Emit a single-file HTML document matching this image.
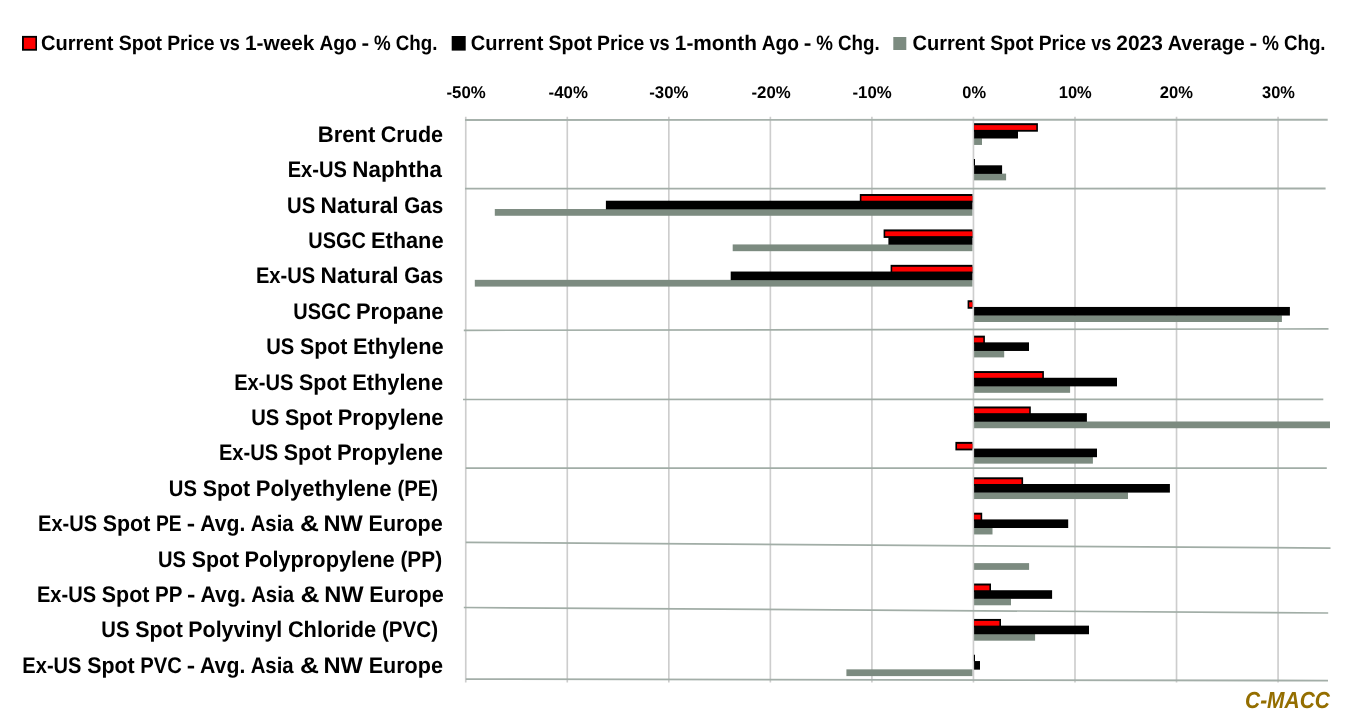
<!DOCTYPE html>
<html lang="en">
<head>
<meta charset="utf-8">
<title>Spot Price Changes</title>
<style>
html,body{margin:0;padding:0;background:#fff;}
body{width:1357px;height:727px;overflow:hidden;}
svg{display:block;}
text{font-family:"Liberation Sans", sans-serif;font-weight:bold;text-rendering:geometricPrecision;}
</style>
</head>
<body>
<svg width="1357" height="727" viewBox="0 0 1357 727">
<rect x="0" y="0" width="1357" height="727" fill="#ffffff"/>
<g stroke="#cdcdcd" stroke-width="1.65" fill="none">
<line x1="465.75" y1="116.8" x2="465.75" y2="682.5"/>
<line x1="567.29" y1="116.8" x2="567.29" y2="682.5"/>
<line x1="668.83" y1="116.8" x2="668.83" y2="682.5"/>
<line x1="770.37" y1="116.8" x2="770.37" y2="682.5"/>
<line x1="871.91" y1="116.8" x2="871.91" y2="682.5"/>
<line x1="973.45" y1="116.8" x2="973.45" y2="682.5"/>
<line x1="1074.99" y1="116.8" x2="1074.99" y2="682.5"/>
<line x1="1176.53" y1="116.8" x2="1176.53" y2="682.5"/>
<line x1="1278.07" y1="116.8" x2="1278.07" y2="682.5"/>
</g>
<g>
<rect x="974.10" y="138.20" width="7.90" height="6.75" fill="#7c8b80"/>
<rect x="974.10" y="129.90" width="43.90" height="8.60" fill="#000"/>
<rect x="974.10" y="123.20" width="63.80" height="8.50" fill="#000"/>
<rect x="974.10" y="125.15" width="62.20" height="4.75" fill="#ff0000"/>
<rect x="974.10" y="173.61" width="32.00" height="6.75" fill="#7c8b80"/>
<rect x="974.10" y="165.31" width="28.00" height="8.60" fill="#000"/>
<rect x="973.90" y="159.01" width="1.10" height="6.60" fill="#000"/>
<rect x="494.80" y="209.02" width="477.60" height="6.75" fill="#7c8b80"/>
<rect x="605.90" y="200.72" width="366.50" height="8.60" fill="#000"/>
<rect x="859.80" y="194.02" width="112.60" height="8.50" fill="#000"/>
<rect x="861.40" y="195.97" width="111.00" height="4.75" fill="#ff0000"/>
<rect x="732.70" y="244.43" width="239.70" height="6.75" fill="#7c8b80"/>
<rect x="888.40" y="236.13" width="84.00" height="8.60" fill="#000"/>
<rect x="883.60" y="229.43" width="88.80" height="8.50" fill="#000"/>
<rect x="885.20" y="231.38" width="87.20" height="4.75" fill="#ff0000"/>
<rect x="474.80" y="279.84" width="497.60" height="6.75" fill="#7c8b80"/>
<rect x="730.70" y="271.54" width="241.70" height="8.60" fill="#000"/>
<rect x="890.60" y="264.84" width="81.80" height="8.50" fill="#000"/>
<rect x="892.20" y="266.79" width="80.20" height="4.75" fill="#ff0000"/>
<rect x="974.10" y="315.25" width="307.80" height="6.75" fill="#7c8b80"/>
<rect x="974.10" y="306.95" width="315.80" height="8.60" fill="#000"/>
<rect x="967.60" y="300.25" width="4.80" height="8.50" fill="#000"/>
<rect x="969.20" y="302.20" width="3.20" height="4.75" fill="#ff0000"/>
<rect x="974.10" y="350.66" width="30.10" height="6.75" fill="#7c8b80"/>
<rect x="974.10" y="342.36" width="54.90" height="8.60" fill="#000"/>
<rect x="974.10" y="335.66" width="10.80" height="8.50" fill="#000"/>
<rect x="974.10" y="337.61" width="9.20" height="4.75" fill="#ff0000"/>
<rect x="974.10" y="386.07" width="96.00" height="6.75" fill="#7c8b80"/>
<rect x="974.10" y="377.77" width="142.90" height="8.60" fill="#000"/>
<rect x="974.10" y="371.07" width="69.80" height="8.50" fill="#000"/>
<rect x="974.10" y="373.02" width="68.20" height="4.75" fill="#ff0000"/>
<rect x="974.10" y="421.48" width="355.90" height="6.75" fill="#7c8b80"/>
<rect x="974.10" y="413.18" width="112.80" height="8.60" fill="#000"/>
<rect x="974.10" y="406.48" width="56.70" height="8.50" fill="#000"/>
<rect x="974.10" y="408.43" width="55.10" height="4.75" fill="#ff0000"/>
<rect x="974.10" y="456.89" width="118.80" height="6.75" fill="#7c8b80"/>
<rect x="974.10" y="448.59" width="122.90" height="8.60" fill="#000"/>
<rect x="955.40" y="441.89" width="17.00" height="8.50" fill="#000"/>
<rect x="957.00" y="443.84" width="15.40" height="4.75" fill="#ff0000"/>
<rect x="974.10" y="492.30" width="153.90" height="6.75" fill="#7c8b80"/>
<rect x="974.10" y="484.00" width="195.80" height="8.60" fill="#000"/>
<rect x="974.10" y="477.30" width="49.00" height="8.50" fill="#000"/>
<rect x="974.10" y="479.25" width="47.40" height="4.75" fill="#ff0000"/>
<rect x="974.10" y="527.71" width="18.40" height="6.75" fill="#7c8b80"/>
<rect x="974.10" y="519.41" width="94.10" height="8.60" fill="#000"/>
<rect x="974.10" y="512.71" width="8.10" height="8.50" fill="#000"/>
<rect x="974.10" y="514.66" width="6.50" height="4.75" fill="#ff0000"/>
<rect x="974.10" y="563.12" width="55.00" height="6.75" fill="#7c8b80"/>
<rect x="974.10" y="598.53" width="36.90" height="6.75" fill="#7c8b80"/>
<rect x="974.10" y="590.23" width="78.00" height="8.60" fill="#000"/>
<rect x="974.10" y="583.53" width="16.90" height="8.50" fill="#000"/>
<rect x="974.10" y="585.48" width="15.30" height="4.75" fill="#ff0000"/>
<rect x="974.10" y="633.94" width="61.00" height="6.75" fill="#7c8b80"/>
<rect x="974.10" y="625.64" width="114.90" height="8.60" fill="#000"/>
<rect x="974.10" y="618.94" width="26.90" height="8.50" fill="#000"/>
<rect x="974.10" y="620.89" width="25.30" height="4.75" fill="#ff0000"/>
<rect x="846.40" y="669.35" width="126.00" height="6.75" fill="#7c8b80"/>
<rect x="974.10" y="661.05" width="5.90" height="8.60" fill="#000"/>
<rect x="973.90" y="654.75" width="1.10" height="6.60" fill="#000"/>
</g>
<g fill="none">
<line x1="465.0" y1="119.95" x2="1327.7" y2="119.75" stroke="#a6b1ab" stroke-width="1.9"/>
<line x1="465.0" y1="188.7" x2="1325.6" y2="188.5" stroke="#a3aea8" stroke-width="1.8"/>
<line x1="463.8" y1="330.3" x2="1328.5" y2="328.9" stroke="#a1ada6" stroke-width="1.7"/>
<line x1="463.0" y1="399.5" x2="1323.3" y2="399.4" stroke="#a1ada6" stroke-width="1.7"/>
<line x1="465.8" y1="468.2" x2="1326.8" y2="468.1" stroke="#a1ada6" stroke-width="1.7"/>
<line x1="465.8" y1="542.4" x2="1330.5" y2="548.1" stroke="#a1ada6" stroke-width="1.7"/>
<line x1="463.8" y1="607.5" x2="1328.2" y2="613.0" stroke="#a1ada6" stroke-width="1.7"/>
<line x1="465.8" y1="679.1" x2="1328.0" y2="680.6" stroke="#a3aea8" stroke-width="1.8"/>
</g>
<rect x="22.0" y="35.9" width="15.0" height="14.8" fill="#000"/>
<rect x="23.9" y="37.7" width="11.5" height="11.2" fill="#ff0000"/>
<rect x="451.7" y="36.0" width="14.0" height="14.6" fill="#000"/>
<rect x="893.3" y="37.0" width="13.0" height="13.0" fill="#7c8b80"/>
<g>
<text y="142" font-size="22.6" fill="#000"><tspan x="317.71" textLength="57.68" lengthAdjust="spacingAndGlyphs">Brent</tspan> <tspan x="380.77" textLength="62.29" lengthAdjust="spacingAndGlyphs">Crude</tspan></text>
<text y="177" font-size="22.6" fill="#000"><tspan x="287.71" textLength="59.19" lengthAdjust="spacingAndGlyphs">Ex-US</tspan> <tspan x="352.34" textLength="89.50" lengthAdjust="spacingAndGlyphs">Naphtha</tspan></text>
<text y="213" font-size="22.6" fill="#000"><tspan x="287.01" textLength="28.14" lengthAdjust="spacingAndGlyphs">US</tspan> <tspan x="320.56" textLength="78.12" lengthAdjust="spacingAndGlyphs">Natural</tspan> <tspan x="404.24" textLength="38.99" lengthAdjust="spacingAndGlyphs">Gas</tspan></text>
<text y="248" font-size="22.6" fill="#000"><tspan x="308.27" textLength="57.59" lengthAdjust="spacingAndGlyphs">USGC</tspan> <tspan x="370.90" textLength="72.64" lengthAdjust="spacingAndGlyphs">Ethane</tspan></text>
<text y="283" font-size="22.6" fill="#000"><tspan x="255.96" textLength="59.19" lengthAdjust="spacingAndGlyphs">Ex-US</tspan> <tspan x="320.56" textLength="78.12" lengthAdjust="spacingAndGlyphs">Natural</tspan> <tspan x="404.24" textLength="38.99" lengthAdjust="spacingAndGlyphs">Gas</tspan></text>
<text y="319" font-size="22.6" fill="#000"><tspan x="293.37" textLength="57.61" lengthAdjust="spacingAndGlyphs">USGC</tspan> <tspan x="356.02" textLength="87.53" lengthAdjust="spacingAndGlyphs">Propane</tspan></text>
<text y="354" font-size="22.6" fill="#000"><tspan x="266.25" textLength="28.05" lengthAdjust="spacingAndGlyphs">US</tspan> <tspan x="299.99" textLength="47.48" lengthAdjust="spacingAndGlyphs">Spot</tspan> <tspan x="352.94" textLength="90.60" lengthAdjust="spacingAndGlyphs">Ethylene</tspan></text>
<text y="390" font-size="22.6" fill="#000"><tspan x="234.17" textLength="59.19" lengthAdjust="spacingAndGlyphs">Ex-US</tspan> <tspan x="299.07" textLength="47.63" lengthAdjust="spacingAndGlyphs">Spot</tspan> <tspan x="352.18" textLength="90.89" lengthAdjust="spacingAndGlyphs">Ethylene</tspan></text>
<text y="425" font-size="22.6" fill="#000"><tspan x="251.15" textLength="28.04" lengthAdjust="spacingAndGlyphs">US</tspan> <tspan x="284.88" textLength="47.46" lengthAdjust="spacingAndGlyphs">Spot</tspan> <tspan x="337.78" textLength="105.76" lengthAdjust="spacingAndGlyphs">Propylene</tspan></text>
<text y="460" font-size="22.6" fill="#000"><tspan x="218.91" textLength="59.19" lengthAdjust="spacingAndGlyphs">Ex-US</tspan> <tspan x="283.82" textLength="47.63" lengthAdjust="spacingAndGlyphs">Spot</tspan> <tspan x="336.92" textLength="106.15" lengthAdjust="spacingAndGlyphs">Propylene</tspan></text>
<text y="496" font-size="22.6" fill="#000"><tspan x="168.80" textLength="28.14" lengthAdjust="spacingAndGlyphs">US</tspan> <tspan x="202.64" textLength="47.63" lengthAdjust="spacingAndGlyphs">Spot</tspan> <tspan x="255.74" textLength="135.84" lengthAdjust="spacingAndGlyphs">Polyethylene</tspan> <tspan x="397.42" textLength="40.71" lengthAdjust="spacingAndGlyphs">(PE)</tspan></text>
<text y="531" font-size="22.6" fill="#000"><tspan x="38.05" textLength="59.02" lengthAdjust="spacingAndGlyphs">Ex-US</tspan> <tspan x="102.76" textLength="47.50" lengthAdjust="spacingAndGlyphs">Spot</tspan> <tspan x="155.88" textLength="25.65" lengthAdjust="spacingAndGlyphs">PE</tspan> <tspan x="186.79" textLength="8.36" lengthAdjust="spacingAndGlyphs">-</tspan> <tspan x="200.20" textLength="45.16" lengthAdjust="spacingAndGlyphs">Avg.</tspan> <tspan x="250.68" textLength="42.95" lengthAdjust="spacingAndGlyphs">Asia</tspan> <tspan x="300.02" textLength="18.97" lengthAdjust="spacingAndGlyphs">&amp;</tspan> <tspan x="323.51" textLength="39.36" lengthAdjust="spacingAndGlyphs">NW</tspan> <tspan x="368.59" textLength="74.15" lengthAdjust="spacingAndGlyphs">Europe</tspan></text>
<text y="567" font-size="22.6" fill="#000"><tspan x="158.05" textLength="28.00" lengthAdjust="spacingAndGlyphs">US</tspan> <tspan x="191.72" textLength="47.39" lengthAdjust="spacingAndGlyphs">Spot</tspan> <tspan x="244.55" textLength="150.10" lengthAdjust="spacingAndGlyphs">Polypropylene</tspan> <tspan x="400.44" textLength="41.66" lengthAdjust="spacingAndGlyphs">(PP)</tspan></text>
<text y="602" font-size="22.6" fill="#000"><tspan x="36.94" textLength="59.15" lengthAdjust="spacingAndGlyphs">Ex-US</tspan> <tspan x="101.80" textLength="47.60" lengthAdjust="spacingAndGlyphs">Spot</tspan> <tspan x="154.97" textLength="26.97" lengthAdjust="spacingAndGlyphs">PP</tspan> <tspan x="187.13" textLength="8.38" lengthAdjust="spacingAndGlyphs">-</tspan> <tspan x="200.57" textLength="45.26" lengthAdjust="spacingAndGlyphs">Avg.</tspan> <tspan x="251.16" textLength="43.04" lengthAdjust="spacingAndGlyphs">Asia</tspan> <tspan x="300.61" textLength="19.01" lengthAdjust="spacingAndGlyphs">&amp;</tspan> <tspan x="324.15" textLength="39.44" lengthAdjust="spacingAndGlyphs">NW</tspan> <tspan x="369.33" textLength="74.31" lengthAdjust="spacingAndGlyphs">Europe</tspan></text>
<text y="637" font-size="22.6" fill="#000"><tspan x="101.32" textLength="28.14" lengthAdjust="spacingAndGlyphs">US</tspan> <tspan x="135.17" textLength="47.63" lengthAdjust="spacingAndGlyphs">Spot</tspan> <tspan x="188.31" textLength="94.02" lengthAdjust="spacingAndGlyphs">Polyvinyl</tspan> <tspan x="287.92" textLength="88.20" lengthAdjust="spacingAndGlyphs">Chloride</tspan> <tspan x="381.96" textLength="56.13" lengthAdjust="spacingAndGlyphs">(PVC)</tspan></text>
<text y="673" font-size="22.6" fill="#000"><tspan x="22.35" textLength="59.10" lengthAdjust="spacingAndGlyphs">Ex-US</tspan> <tspan x="87.15" textLength="47.56" lengthAdjust="spacingAndGlyphs">Spot</tspan> <tspan x="140.27" textLength="41.53" lengthAdjust="spacingAndGlyphs">PVC</tspan> <tspan x="186.65" textLength="8.37" lengthAdjust="spacingAndGlyphs">-</tspan> <tspan x="200.09" textLength="45.22" lengthAdjust="spacingAndGlyphs">Avg.</tspan> <tspan x="250.63" textLength="43.00" lengthAdjust="spacingAndGlyphs">Asia</tspan> <tspan x="300.04" textLength="18.99" lengthAdjust="spacingAndGlyphs">&amp;</tspan> <tspan x="323.55" textLength="39.41" lengthAdjust="spacingAndGlyphs">NW</tspan> <tspan x="368.69" textLength="74.24" lengthAdjust="spacingAndGlyphs">Europe</tspan></text>
<text y="50" font-size="20.9" fill="#000"><tspan x="40.97" textLength="72.46" lengthAdjust="spacingAndGlyphs">Current</tspan> <tspan x="118.65" textLength="43.45" lengthAdjust="spacingAndGlyphs">Spot</tspan> <tspan x="167.13" textLength="47.37" lengthAdjust="spacingAndGlyphs">Price</tspan> <tspan x="219.64" textLength="20.14" lengthAdjust="spacingAndGlyphs">vs</tspan> <tspan x="244.92" textLength="69.57" lengthAdjust="spacingAndGlyphs">1-week</tspan> <tspan x="319.41" textLength="37.34" lengthAdjust="spacingAndGlyphs">Ago</tspan> <tspan x="361.46" textLength="7.65" lengthAdjust="spacingAndGlyphs">-</tspan> <tspan x="374.10" textLength="16.70" lengthAdjust="spacingAndGlyphs">%</tspan> <tspan x="395.74" textLength="41.72" lengthAdjust="spacingAndGlyphs">Chg.</tspan></text>
<text y="50" font-size="20.9" fill="#000"><tspan x="470.87" textLength="72.46" lengthAdjust="spacingAndGlyphs">Current</tspan> <tspan x="548.55" textLength="43.45" lengthAdjust="spacingAndGlyphs">Spot</tspan> <tspan x="597.03" textLength="47.37" lengthAdjust="spacingAndGlyphs">Price</tspan> <tspan x="649.54" textLength="20.14" lengthAdjust="spacingAndGlyphs">vs</tspan> <tspan x="674.82" textLength="82.11" lengthAdjust="spacingAndGlyphs">1-month</tspan> <tspan x="761.65" textLength="37.34" lengthAdjust="spacingAndGlyphs">Ago</tspan> <tspan x="803.70" textLength="7.65" lengthAdjust="spacingAndGlyphs">-</tspan> <tspan x="816.35" textLength="16.70" lengthAdjust="spacingAndGlyphs">%</tspan> <tspan x="837.98" textLength="41.72" lengthAdjust="spacingAndGlyphs">Chg.</tspan></text>
<text y="50" font-size="20.9" fill="#000"><tspan x="912.47" textLength="72.46" lengthAdjust="spacingAndGlyphs">Current</tspan> <tspan x="990.15" textLength="43.45" lengthAdjust="spacingAndGlyphs">Spot</tspan> <tspan x="1038.63" textLength="47.37" lengthAdjust="spacingAndGlyphs">Price</tspan> <tspan x="1091.14" textLength="20.14" lengthAdjust="spacingAndGlyphs">vs</tspan> <tspan x="1116.35" textLength="46.49" lengthAdjust="spacingAndGlyphs">2023</tspan> <tspan x="1167.72" textLength="77.11" lengthAdjust="spacingAndGlyphs">Average</tspan> <tspan x="1249.61" textLength="7.65" lengthAdjust="spacingAndGlyphs">-</tspan> <tspan x="1262.25" textLength="16.70" lengthAdjust="spacingAndGlyphs">%</tspan> <tspan x="1283.89" textLength="41.72" lengthAdjust="spacingAndGlyphs">Chg.</tspan></text>
<text y="98" font-size="17.0" fill="#000"><tspan x="446.48" textLength="39.26" lengthAdjust="spacingAndGlyphs">-50%</tspan></text>
<text y="98" font-size="17.0" fill="#000"><tspan x="548.58" textLength="39.26" lengthAdjust="spacingAndGlyphs">-40%</tspan></text>
<text y="98" font-size="17.0" fill="#000"><tspan x="649.28" textLength="39.26" lengthAdjust="spacingAndGlyphs">-30%</tspan></text>
<text y="98" font-size="17.0" fill="#000"><tspan x="751.48" textLength="39.26" lengthAdjust="spacingAndGlyphs">-20%</tspan></text>
<text y="98" font-size="17.0" fill="#000"><tspan x="852.48" textLength="39.26" lengthAdjust="spacingAndGlyphs">-10%</tspan></text>
<text y="98" font-size="17.0" fill="#000"><tspan x="962.32" textLength="23.77" lengthAdjust="spacingAndGlyphs">0%</tspan></text>
<text y="98" font-size="17.0" fill="#000"><tspan x="1058.78" textLength="33.04" lengthAdjust="spacingAndGlyphs">10%</tspan></text>
<text y="98" font-size="17.0" fill="#000"><tspan x="1159.80" textLength="33.12" lengthAdjust="spacingAndGlyphs">20%</tspan></text>
<text y="98" font-size="17.0" fill="#000"><tspan x="1262.06" textLength="32.86" lengthAdjust="spacingAndGlyphs">30%</tspan></text>
<text y="708" font-size="23.2" font-style="italic" fill="#946e00"><tspan x="1245.02" textLength="84.90" lengthAdjust="spacingAndGlyphs">C-MACC</tspan></text>
</g>
</svg>
</body>
</html>
